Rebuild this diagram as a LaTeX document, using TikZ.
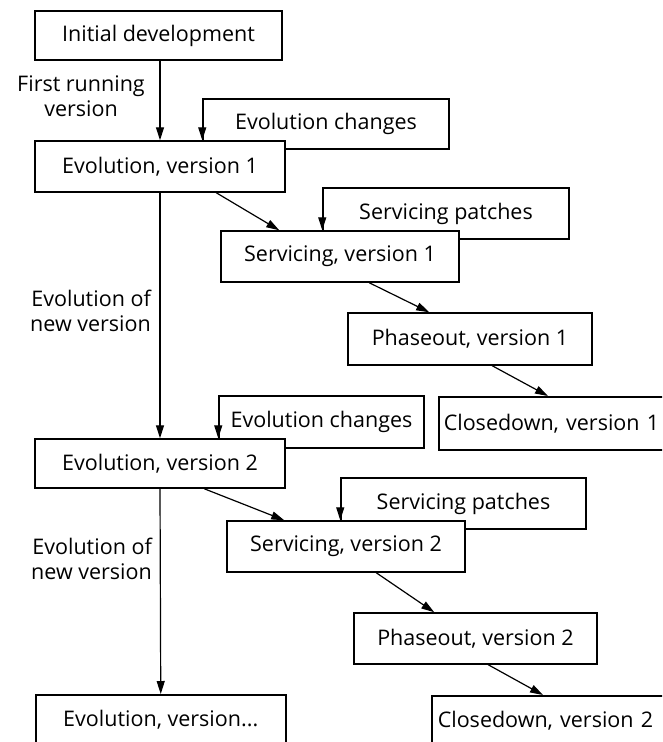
\documentclass[tikz,border=0pt]{standalone}
\usepackage{fontspec}
\setmainfont{Open Sans}
\usetikzlibrary{arrows.meta,calc}
\begin{document}
\begin{tikzpicture}[x=1pt,y=-1pt,
  txt/.style={font=\fontsize{21.5}{25}\selectfont},
  box/.style={txt, draw, line width=1.5pt, fill=white, inner sep=0pt},
  flow/.style={line width=1.2pt, -{Triangle[length=13pt,width=8pt]}},
  lbl/.style={txt, inner sep=0pt}]
\useasboundingbox (0,0) rectangle (662,742);
\clip (0,0) rectangle (662,742);

% side inputs, drawn first so the stage boxes overlap them
\node[box, minimum width=246pt, minimum height=50pt] (chg1) at (326,124) {Evolution changes};
\node[box, minimum width=246pt, minimum height=51pt] (pat1) at (446,213.5) {Servicing patches};
\node[box, minimum width=205pt, minimum height=52pt] (chg2) at (321.5,422) {Evolution changes};
\node[box, minimum width=245pt, minimum height=51pt] (pat2) at (463.5,503.5) {Servicing patches};

% stages
\node[box, minimum width=247pt, minimum height=49pt] (init) at (158.5,35.5) {Initial development};
\node[box, minimum width=250pt, minimum height=51pt] (ev1) at (160,166.5) {Evolution, version 1};
\node[box, minimum width=238pt, minimum height=51pt] (sv1) at (340,256.5) {Servicing, version 1};
\node[box, minimum width=244pt, minimum height=52pt] (ph1) at (470,339) {Phaseout, version 1};
\node[box, minimum width=262pt, minimum height=53pt, text width=252pt, inner xsep=5pt, align=left, anchor=north west] (cd1) at (438,396) {Closedown, version 1};
\node[box, minimum width=250pt, minimum height=49pt] (ev2) at (160,463.5) {Evolution, version 2};
\node[box, minimum width=238pt, minimum height=51pt] (sv2) at (346,546.5) {Servicing, version 2};
\node[box, minimum width=243pt, minimum height=51pt] (ph2) at (475.5,638.5) {Phaseout, version 2};
\node[box, minimum width=262pt, minimum height=50pt, text width=250pt, inner xsep=6pt, align=left, anchor=north west] (cd2) at (431,695) {Closedown, version 2};
\node[box, minimum width=250pt, minimum height=50pt, anchor=north west] (evn) at (35,694) {Evolution, version...};

% labels
\node[lbl, align=center] (first) at (81,96.5) {First running\\version};
\node[lbl, align=right, anchor=east] (new1) at (151,310.5) {Evolution of\\new version};
\node[lbl, align=right, anchor=east] (new2) at (152,558.5) {Evolution of\\new version};

% connectors
\draw[flow] (ev1.north |- init.south) -- (ev1.north);
\draw[flow] (chg1.north west) -- (chg1.north west |- ev1.north);
\draw[flow] ($(ev1.south west)+(182,0)$) -- ($(sv1.north west)+(59,0)$);
\draw[flow] (pat1.north west) -- (pat1.north west |- sv1.north);
\draw[flow] ($(sv1.south west)+(149,0)$) -- ($(ph1.north west)+(82,0)$);
\draw[flow] ($(ph1.south west)+(145,0)$) -- ($(cd1.north west)+(110,0)$);
\draw[flow] (ev1.south) -- (ev2.north);
\draw[flow] (chg2.north west) -- (chg2.north west |- ev2.north);
\draw[flow] ($(ev2.south west)+(170,0)$) -- ($(sv2.north west)+(58,0)$);
\draw[flow] (pat2.north west) -- (pat2.north west |- sv2.north);
\draw[flow] ($(sv2.south west)+(150,0)$) -- ($(ph2.north west)+(81,0)$);
\draw[flow] ($(ph2.south west)+(135,0)$) -- ($(cd2.north west)+(112,0)$);
\draw[flow] (ev2.south) -- (evn.north);
\end{tikzpicture}
\end{document}
